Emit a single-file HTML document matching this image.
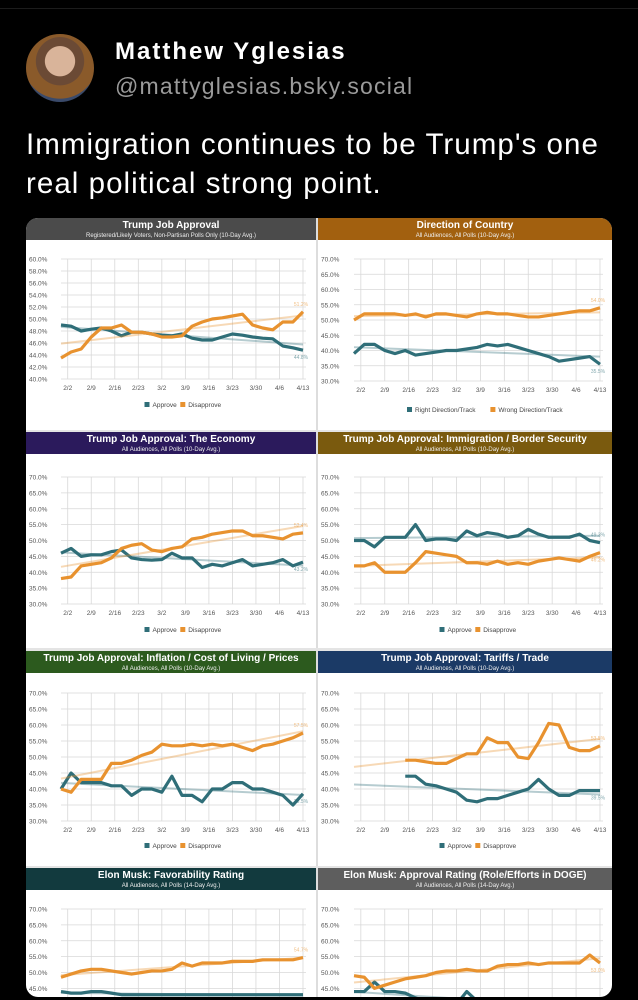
<!DOCTYPE html>
<html><head><meta charset="utf-8">
<style>
html,body{margin:0;background:#000;width:638px;height:1000px;overflow:hidden;font-family:"Liberation Sans",sans-serif;position:relative}
.abs{position:absolute}
</style></head>
<body>
<div class="abs" style="left:0;top:8px;width:638px;height:1px;background:#1c1c1c"></div>
<div class="abs" style="left:26px;top:34px;width:68px;height:68px;border-radius:50%;background:radial-gradient(circle at 50% 40%,#d9b49a 0 28%,#6b4a35 29% 45%,#8a5a2a 46% 70%,#3a4a6a 71%);overflow:hidden"></div>
<div class="abs" style="left:115px;top:38px;color:#fff;font-size:24px;font-weight:bold;letter-spacing:2px">Matthew Yglesias</div>
<div class="abs" style="left:115px;top:73px;color:#9a9a9a;font-size:23px;letter-spacing:1.2px">@mattyglesias.bsky.social</div>
<div class="abs" style="left:26px;top:125px;color:#fff;font-size:29.5px;letter-spacing:1.05px;line-height:39px;width:590px">Immigration continues to be Trump's one real political strong point.</div>
<svg class="abs" style="left:0;top:0" width="638" height="1000" viewBox="0 0 638 1000" id="svg"></svg>
<script>
// days from 1/31; sample every 3 days
const days=[0,3,6,9,12,15,18,21,24,27,30,33,36,39,42,45,48,51,54,57,60,63,66,69,72];
const weekLabels=["2/2","2/9","2/16","2/23","3/2","3/9","3/16","3/23","3/30","4/6","4/13"];
const weekDays=[2,9,16,23,30,37,44,51,58,65,72];
const p1Approve=[49,48.8,48,48.3,48.5,48,47.2,47.8,47.8,47.5,47.3,47.2,47.5,46.8,46.5,46.5,47,47.5,47.3,47,46.8,46.7,45.5,45.2,44.8];
const p1Disapprove=[43.5,44.5,45,47,48.5,48.5,49,47.8,47.8,47.5,47,47,47.2,48.8,49.5,50,50.2,50.5,50.8,49,48.5,48.2,49.5,49.5,51.2];
const p2Right=[39,42,42,40,39,40,38.5,39,39.5,40,40,40.5,41,42,41.5,42,41,40,39,38,36.5,37,37.5,38,35.5];
const p2Wrong=[50,52,52,52,52,51.5,52,51,52,52,51.5,51,52,52.5,52,52,51.5,51,51,51.5,52,52.5,53,53,54];
const p3Approve=[46,47.5,45,45.5,45.5,46.5,47,44.5,44,43.8,44,46,44.5,44.5,41.5,42.5,42,43,44,42,42.5,43,44,42,43.2];
const p3Disapprove=[38,38.5,42,42.5,43,44.5,47.5,48.5,49,47,46.5,47.5,48,50.5,51,52,52.5,53,53,51.5,51.5,51,50.5,52,52.4];
const p4Approve=[50,50,48,51,51,51,55,50,50.5,50.5,50,53,51.5,52.5,52,51,51.5,53.5,52,51,51,51,52,50,49.3];
const p4Disapprove=[42,42,43,40,40,40,43,46.5,46,45.5,45,43,43,42.5,43.5,42.5,43,42.5,43.5,44,44.5,44,43.5,45,46.2];
const p5Approve=[40,45,42,42,42,41,41,38,40,40,39,44,38,38,36,40,40,42,42,40,40,39,38,35,38.5];
const p5Disapprove=[40,39,43,43,43,48,48,49,50.5,51.5,54,53.5,53.5,54,53.5,54,53.5,54,53,52,53.5,54,55,56,57.5];
const p6Approve=[null,null,null,null,null,44,44,41.5,41,40,39,36.5,36,37,37,38,39,40,43,40,38,38,39.5,39.5,39.5];
const p6Disapprove=[null,null,null,null,null,49,49,48.5,48,48,49.5,51,51,56,54.5,54.5,50,49.5,54.5,60.5,60,53,52,52,53.5];
const p7Unfav=[44,43.5,43.5,44,44,43.5,43,43,43,43,43,43,43,43,43,43,43,43,43,43,43,43,43,43,43];
const p7Fav=[48.5,49.5,50.5,51,51,50.5,50,49.5,50,50.5,50.5,51,53,52,53,53,53,53.5,53.5,53.5,54,54,54,54,54.7];
const p8Disapprove=[44,44,47,44,44,43.5,42,41,40,40,40,44,41,40,40,40,40,40,40,40,40,40,40,40,40];
const p8Approve=[49,48.5,45,46,47,48,48.5,49,50,50.5,50.5,51,50.5,50.5,52,52.5,52.5,53,52.5,53,53,53,53,55.5,53];

const NS="http://www.w3.org/2000/svg";
const svg=document.getElementById('svg');
function el(tag,attrs,parent){const e=document.createElementNS(NS,tag);for(const k in attrs)e.setAttribute(k,attrs[k]);(parent||svg).appendChild(e);return e;}
const TEAL="#2f6e78",ORANGE="#e8922f";
const clip=el('clipPath',{id:'card'});el('rect',{x:26,y:218,width:586,height:779,rx:12},clip);
const g=el('g',{'clip-path':'url(#card)'});
const cardBg=el('rect',{x:26,y:218,width:586,height:779,fill:'#fff'},g);


el('rect',{x:316,y:218,width:2,height:779,fill:'#ddd'},g);

function panel(o){
  const pg=el('g',{},g);
  
  
  const bar=el('rect',{x:o.px,y:o.ty,width:o.pw,height:22,fill:o.color},pg);
  
  
  const t=el('text',{x:o.px+o.pw/2,y:o.ty+10,'text-anchor':'middle','font-size':10,'font-weight':'bold',fill:'#fff'},pg);t.textContent=o.title;
  
  
  const s=el('text',{x:o.px+o.pw/2,y:o.ty+19,'text-anchor':'middle','font-size':6,fill:'#eee'},pg);s.textContent=o.sub;
  
  
  const X=d=>o.x0+d/72*(o.x1-o.x0);
  const Y=v=>o.yb-(v-o.vmin)/(o.vmax-o.vmin)*(o.yb-o.yt);
  for(let v=o.vmin;v<=o.vmax+0.001;v+=o.step){
    if(Y(v)>997)continue;
    el('line',{x1:o.x0,x2:o.x1+3,y1:Y(v),y2:Y(v),stroke:'#d8d8d8','stroke-width':0.8},pg);
    const l=el('text',{x:o.px+3,y:Y(v)+2.5,'font-size':6.5,fill:'#555'},pg);l.textContent=v.toFixed(1)+'%';
    
    
  }
  const yEnd=Math.min(o.yb,997);
  weekDays.forEach((d,i)=>{
    el('line',{x1:X(d),x2:X(d),y1:o.yt,y2:yEnd,stroke:'#d8d8d8','stroke-width':0.8},pg);
    if(o.noAxis)return;
    const l=el('text',{x:X(d),y:o.yb+11,'text-anchor':'middle','font-size':6.5,fill:'#555'},pg);l.textContent=weekLabels[i];
    
    
  });
  o.series.forEach(sr=>{
    const pts=[];sr.data.forEach((v,i)=>{if(v!=null)pts.push([X(days[i]),Y(v)]);});
    const n=pts.length;let mx=0,my=0;pts.forEach(p=>{mx+=p[0];my+=p[1]});mx/=n;my/=n;
    let num=0,den=0;pts.forEach(p=>{num+=(p[0]-mx)*(p[1]-my);den+=(p[0]-mx)**2});const b=num/den;
    const tx0=sr.trendFrom!=null?X(0):pts[0][0];
    el('line',{x1:tx0,y1:my+b*(tx0-mx),x2:pts[n-1][0],y2:my+b*(pts[n-1][0]-mx),stroke:sr.color,'stroke-opacity':0.35,'stroke-width':2},pg);
    const line=el('polyline',{points:pts.map(p=>p.join(',')).join(' '),fill:'none',stroke:sr.color,'stroke-width':3.2,'stroke-linejoin':'round'},pg);
    
    
    const lab=el('text',{x:pts[n-1][0]-2,y:pts[n-1][1]+(sr.above?-6:9),'text-anchor':'middle','font-size':5,fill:sr.color,'fill-opacity':0.6},pg);
    lab.textContent=sr.data[sr.data.length-1].toFixed(1)+'%';
  });
  if(o.noAxis)return;
  const cx=(o.x0+o.x1)/2;let lx=cx-o.legendW/2;
  o.series.forEach(sr=>{
    el('rect',{x:lx,y:o.ly-5,width:5,height:5,fill:sr.color},pg);
    const lt=el('text',{x:lx+8,y:o.ly,'font-size':6.5,fill:'#444'},pg);lt.textContent=sr.label;
    
    
    lx+=12+sr.label.length*3.4;
  });
}
const L={px:26,pw:290,x0:61,x1:303},R={px:318,pw:294,x0:354,x1:600};
const sub10="All Audiences, All Polls (10-Day Avg.)",sub14="All Audiences, All Polls (14-Day Avg.)";
panel({...L,name:'panel-trump-job-approval',ty:218,color:'#4b4b4b',title:'Trump Job Approval',sub:'Registered/Likely Voters, Non-Partisan Polls Only (10-Day Avg.)',vmin:40,vmax:60,step:2,yt:259,yb:379,ly:407,legendW:75,
 series:[{name:'approve-line',label:'Approve',color:TEAL,data:p1Approve},{name:'disapprove-line',label:'Disapprove',color:ORANGE,data:p1Disapprove,above:true}]});
panel({...R,name:'panel-direction-of-country',ty:218,color:'#a2600f',title:'Direction of Country',sub:sub10,vmin:30,vmax:70,step:5,yt:259,yb:381,ly:412,legendW:140,
 series:[{name:'right-direction-line',label:'Right Direction/Track',color:TEAL,data:p2Right},{name:'wrong-direction-line',label:'Wrong Direction/Track',color:ORANGE,data:p2Wrong,above:true}]});
el('rect',{x:26,y:430,width:586,height:2,fill:'#e4e4e4'},g);
panel({...L,name:'panel-economy',ty:432,color:'#2b1a5c',title:'Trump Job Approval: The Economy',sub:sub10,vmin:30,vmax:70,step:5,yt:477,yb:604,ly:632,legendW:75,
 series:[{name:'approve-line',label:'Approve',color:TEAL,data:p3Approve},{name:'disapprove-line',label:'Disapprove',color:ORANGE,data:p3Disapprove,above:true}]});
panel({...R,name:'panel-immigration',ty:432,color:'#7a5a0e',title:'Trump Job Approval: Immigration / Border Security',sub:sub10,vmin:30,vmax:70,step:5,yt:477,yb:604,ly:632,legendW:75,
 series:[{name:'approve-line',label:'Approve',color:TEAL,data:p4Approve,above:true},{name:'disapprove-line',label:'Disapprove',color:ORANGE,data:p4Disapprove}]});
el('rect',{x:26,y:648,width:586,height:3,fill:'#e4e4e4'},g);
panel({...L,name:'panel-inflation',ty:651,color:'#2c5a1e',title:'Trump Job Approval: Inflation / Cost of Living / Prices',sub:sub10,vmin:30,vmax:70,step:5,yt:693,yb:821,ly:848,legendW:75,
 series:[{name:'approve-line',label:'Approve',color:TEAL,data:p5Approve},{name:'disapprove-line',label:'Disapprove',color:ORANGE,data:p5Disapprove,above:true}]});
panel({...R,name:'panel-tariffs',ty:651,color:'#1b3a66',title:'Trump Job Approval: Tariffs / Trade',sub:sub10,vmin:30,vmax:70,step:5,yt:693,yb:821,ly:848,legendW:75,
 series:[{name:'approve-line',label:'Approve',color:TEAL,data:p6Approve,trendFrom:0},{name:'disapprove-line',label:'Disapprove',color:ORANGE,data:p6Disapprove,above:true,trendFrom:0}]});
el('rect',{x:26,y:866,width:586,height:3,fill:'#e4e4e4'},g);
panel({...L,name:'panel-musk-favorability',ty:868,color:'#123a3e',title:'Elon Musk: Favorability Rating',sub:sub14,vmin:30,vmax:70,step:5,yt:909,yb:1036,noAxis:true,
 series:[{name:'unfavorable-line',label:'Unfavorable',color:TEAL,data:p7Unfav},{name:'favorable-line',label:'Favorable',color:ORANGE,data:p7Fav,above:true}]});
panel({...R,name:'panel-musk-doge',ty:868,color:'#5e5e5e',title:'Elon Musk: Approval Rating (Role/Efforts in DOGE)',sub:sub14,vmin:30,vmax:70,step:5,yt:909,yb:1036,noAxis:true,
 series:[{name:'disapprove-line',label:'Disapprove',color:TEAL,data:p8Disapprove},{name:'approve-line',label:'Approve',color:ORANGE,data:p8Approve}]});
</script>
</body></html>
